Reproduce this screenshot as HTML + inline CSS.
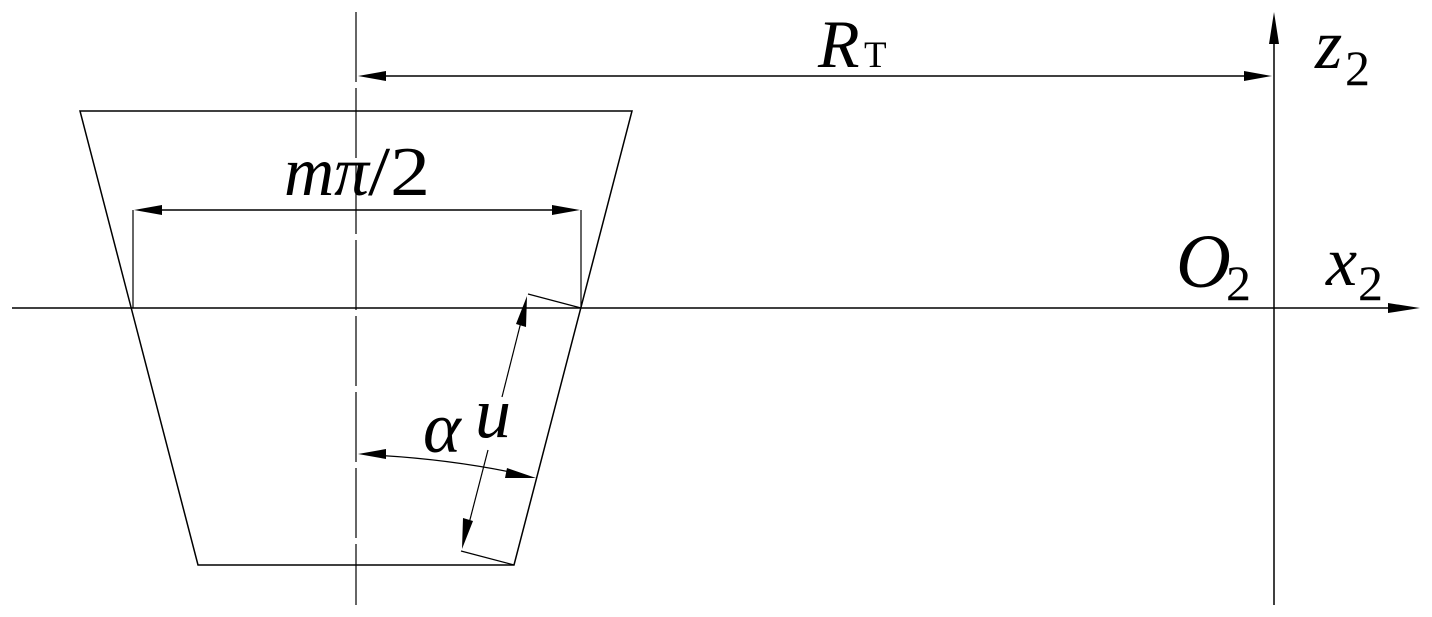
<!DOCTYPE html>
<html><head><meta charset="utf-8"><style>
html,body{margin:0;padding:0;background:#fff;}
svg{display:block;}
text{font-family:"Liberation Serif",serif;fill:#000;}
</style></head><body>
<svg width="1432" height="617" viewBox="0 0 1432 617" xmlns="http://www.w3.org/2000/svg">
<g stroke="#000" fill="none" stroke-width="1.5">
<line x1="12" y1="308" x2="1400" y2="308"/>
<line x1="1274" y1="30" x2="1274" y2="605"/>
<line x1="356" y1="12" x2="356" y2="605" stroke-dasharray="70,6" stroke-width="1.2"/>
<polygon points="80,111 632,111 514,565 198,565"/>
<line x1="375" y1="76" x2="1255" y2="76"/>
<line x1="133" y1="210" x2="133" y2="308" stroke-width="1.2"/>
<line x1="581" y1="210" x2="581" y2="308" stroke-width="1.2"/>
<line x1="150" y1="210" x2="565" y2="210"/>
<line x1="581" y1="308" x2="528" y2="294" stroke-width="1.2"/>
<line x1="514" y1="565" x2="461" y2="551" stroke-width="1.2"/>
<line x1="524" y1="310" x2="502" y2="397" stroke-width="1.2"/>
<line x1="488" y1="450" x2="466" y2="535" stroke-width="1.2"/>
<path d="M372,455 Q450,459 520,474" stroke-width="1.2"/>
</g>
<g fill="#000">
<polygon points="1420,308 1388,303 1388,313"/>
<polygon points="1274,12 1269,44 1279,44"/>
<polygon points="358,76 386,71 386,81"/>
<polygon points="1272,76 1244,71 1244,81"/>
<polygon points="134,210 162,205 162,215"/>
<polygon points="580,210 552,205 552,215"/>
<polygon points="527,296 526,327 516,324"/>
<polygon points="462,549 463,518 473,521"/>
<polygon points="358,454 386,449 386,459"/>
<polygon points="536,478 507,468 505,478"/>
</g>
<text x="818" y="67" font-size="68" font-style="italic">R</text>
<text x="864" y="67" font-size="37">T</text>
<text x="284" y="195" font-size="70" font-style="italic" textLength="85" lengthAdjust="spacingAndGlyphs">mπ</text>
<text x="368" y="195" font-size="70" textLength="62" lengthAdjust="spacingAndGlyphs">/2</text>
<text x="423" y="452" font-size="72" font-style="italic">α</text>
<text x="475" y="437" font-size="72" font-style="italic">u</text>
<text x="1315" y="68" font-size="70" font-style="italic">z</text>
<text x="1345" y="85" font-size="50">2</text>
<text x="1176" y="287" font-size="76" font-style="italic">O</text>
<text x="1226" y="300" font-size="50">2</text>
<text x="1326" y="285" font-size="70" font-style="italic">x</text>
<text x="1358" y="300" font-size="50">2</text>
</svg>
</body></html>
